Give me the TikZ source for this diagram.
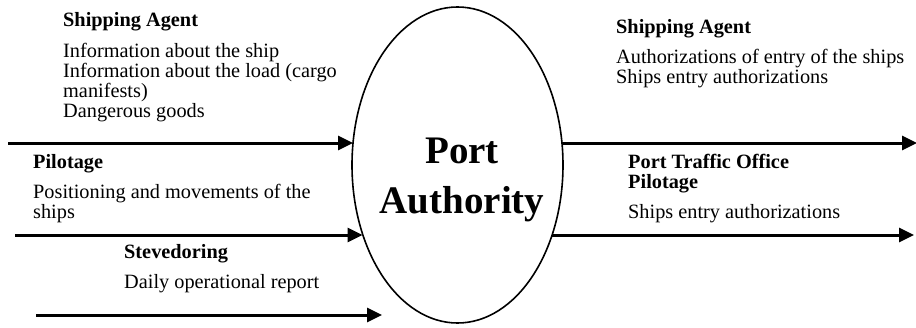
\documentclass[tikz,border=0pt]{standalone}
\usepackage{fontspec}
\setmainfont{Liberation Serif}
\usetikzlibrary{arrows.meta,shapes.geometric}
\begin{document}
\begin{tikzpicture}[x=1pt,y=-1pt,
  lbl/.style={anchor=base west,inner sep=0pt,font=\fontsize{20.3}{20}\selectfont},
  head/.style={lbl,font=\fontsize{20.3}{20}\selectfont\bfseries},
  title/.style={anchor=base,inner sep=0pt,font=\fontsize{39}{50}\selectfont\bfseries},
  flow/.style={line width=3pt,-{Triangle[length=15pt,width=14pt]}},
]
\useasboundingbox (0,0) rectangle (916,327);

% central process
\node[draw,ellipse,line width=1.6pt,minimum width=211pt,minimum height=316pt,
      inner sep=0pt,outer sep=0pt] (pa) at (457.5,165) {};
\node[title] (pa1) at (462,163) {Port};
\node[title] (pa2) at (462,213) {Authority};

% incoming flows
\node[head] (sa) at (63,26) {Shipping Agent};
\node[lbl] (sa1) at (63,57) {Information about the ship};
\node[lbl] (sa2) at (63,77) {Information about the load (cargo};
\node[lbl] (sa3) at (63,97) {manifests)};
\node[lbl] (sa4) at (63,117) {Dangerous goods};

\node[head] (pi) at (33,168) {Pilotage};
\node[lbl] (pi1) at (33,198) {Positioning and movements of the};
\node[lbl] (pi2) at (33,218) {ships};

\node[head] (st) at (124,258) {Stevedoring};
\node[lbl] (st1) at (124,288) {Daily operational report};

\coordinate (in1) at (8,143);
\coordinate (in2) at (15,235);
\coordinate (in3) at (36,315);
\coordinate (in3e) at (382,315);
\draw[flow] (in1) -- (in1 -| pa.168.1);
\draw[flow] (in2) -- (in2 -| pa.216.7);
\draw[flow] (in3) -- (in3e);

% outgoing flows
\node[head] (osa) at (616,33) {Shipping Agent};
\node[lbl] (osa1) at (616,63) {Authorizations of entry of the ships};
\node[lbl] (osa2) at (616,83) {Ships entry authorizations};

\node[head] (pto) at (628,168) {Port Traffic Office};
\node[head] (pto2) at (628,188) {Pilotage};
\node[lbl] (pto3) at (628,218) {Ships entry authorizations};

\coordinate (out1) at (917,143);
\coordinate (out2) at (914,235);
\draw[flow] (out1 -| pa.11.9) -- (out1);
\draw[flow] (out2 -| pa.-36.2) -- (out2);
\end{tikzpicture}
\end{document}
